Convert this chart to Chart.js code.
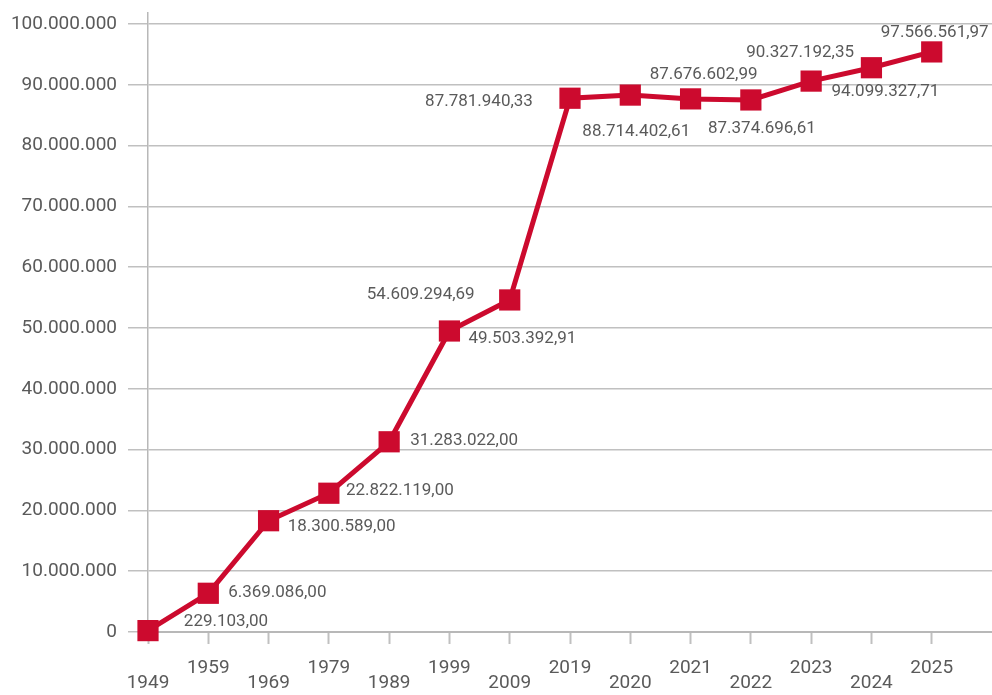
<!DOCTYPE html>
<html>
<head>
<meta charset="utf-8">
<script src="https://cdn.jsdelivr.net/npm/chart.js@4"></script>
<style>
  html, body { margin: 0; padding: 0; background: #fff; overflow: hidden; }
  canvas { display: block; }
</style>
</head>
<body>
<canvas id="lineChart" width="992" height="695"></canvas>
<script>
// categories
const years = ['1949', '1959', '1969', '1979', '1989', '1999', '2009', '2019', '2020', '2021', '2022', '2023', '2024', '2025'];
// series values
const values = [229103, 6369086, 18300589, 22822119, 31283022, 49503393, 54609295, 87781940, 88300000, 87676603, 87500000, 90600000, 92800000, 95400000];
// text printed next to each point
const valueLabels = ['229.103,00', '6.369.086,00', '18.300.589,00', '22.822.119,00', '31.283.022,00', '49.503.392,91', '54.609.294,69',
  '87.781.940,33', '88.714.402,61', '87.676.602,99', '87.374.696,61', '90.327.192,35', '94.099.327,71', '97.566.561,97'];
// y tick values
const yTicks = [0, 10000000, 20000000, 30000000, 40000000, 50000000, 60000000, 70000000, 80000000, 90000000, 100000000];

// label placement, pixels from the point centre (style only)
const labelOffsets = [[78, -9], [69, -1], [73, 6], [71, -2], [75, -1], [73, 8], [-89, -5],
  [-91, 4], [6, 37], [13, -24], [11, 29], [-11, -28], [14, 24], [3, -19]];

const red = '#cc0a2e';
const textGray = '#5a5a5a';
const gridGray = '#c0c0c0';
const font = 'Roboto, "Noto Sans", sans-serif';

function dots(n) {
  return String(n).replace(/\B(?=(\d{3})+(?!\d))/g, '.');
}

// x labels staggered over two rows; one empty slot at the end
const xLabels = years.map((y, i) => i % 2 === 0 ? ['', y] : y);
xLabels.push('');

const valueLabelPlugin = {
  id: 'valueLabels',
  afterDatasetsDraw(chart) {
    const ctx = chart.ctx;
    const meta = chart.getDatasetMeta(0);
    ctx.save();
    ctx.font = '17px ' + font;
    ctx.fillStyle = textGray;
    ctx.textAlign = 'center';
    ctx.textBaseline = 'middle';
    meta.data.forEach((pt, i) => {
      const off = labelOffsets[i];
      ctx.fillText(valueLabels[i], pt.x + off[0], pt.y + off[1]);
    });
    ctx.restore();
  }
};

const ctx = document.getElementById('lineChart').getContext('2d');
new Chart(ctx, {
  type: 'line',
  data: {
    labels: xLabels,
    datasets: [{
      data: values,
      borderColor: red,
      backgroundColor: red,
      borderWidth: 5,
      fill: false,
      tension: 0,
      clip: false,
      pointStyle: 'rect',
      pointRadius: 15,
      pointHoverRadius: 15,
      pointBorderWidth: 0,
      pointBackgroundColor: red
    }]
  },
  options: {
    responsive: false,
    devicePixelRatio: 1,
    animation: false,
    layout: { autoPadding: false, padding: { top: 13, right: 0, bottom: 0, left: 0 } },
    plugins: {
      legend: { display: false },
      tooltip: { enabled: false }
    },
    scales: {
      x: {
        offset: false,
        grid: {
          drawOnChartArea: false,
          tickLength: 12,
          tickWidth: 2,
          tickColor: (c) => c.index === years.length ? 'transparent' : gridGray
        },
        border: { color: '#b8b8b8', width: 2 },
        ticks: {
          autoSkip: false,
          maxRotation: 0,
          minRotation: 0,
          padding: 17,
          color: textGray,
          font: { family: font, size: 19, lineHeight: '15px' }
        },
        afterFit(scale) {
          scale.height = 63;
          scale.paddingLeft = 0;
          scale.paddingRight = 0;
        }
      },
      y: {
        min: 0,
        max: 101800000,
        grid: {
          color: gridGray,
          lineWidth: 1.5,
          tickLength: 20
        },
        border: { color: '#b8b8b8', width: 1.5 },
        afterBuildTicks(scale) {
          scale.ticks = yTicks.map(v => ({ value: v }));
        },
        ticks: {
          padding: 11,
          color: textGray,
          font: { family: font, size: 19 },
          callback: (v) => dots(v)
        },
        afterFit(scale) {
          scale.width = 148;
          scale.paddingTop = 0;
          scale.paddingBottom = 0;
        }
      }
    }
  },
  plugins: [valueLabelPlugin]
});
</script>
</body>
</html>
